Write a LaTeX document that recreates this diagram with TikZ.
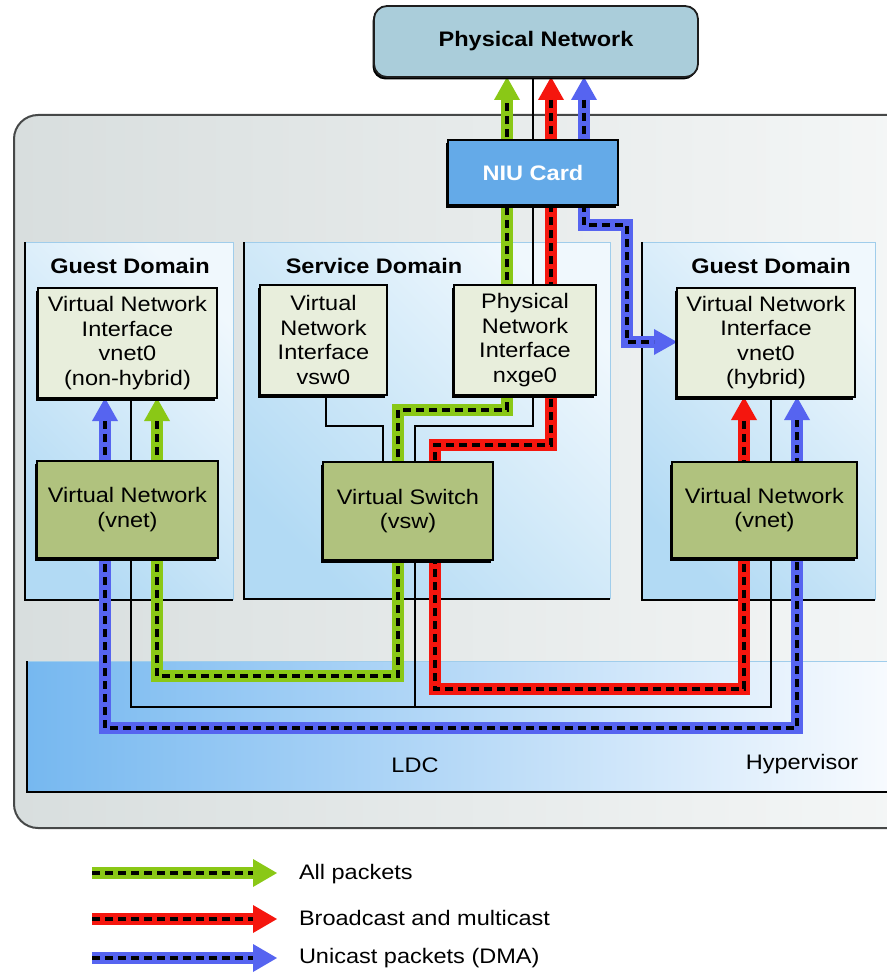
\documentclass[tikz,border=0pt]{standalone}
\usepackage{fontspec}
\setmainfont{Liberation Sans}[FakeStretch=1.12]
\usetikzlibrary{arrows.meta,shadows}

\pgfdeclarelayer{back}
\pgfdeclarelayer{flow}
\pgfsetlayers{back,flow,main}

\definecolor{pgreen}{RGB}{138,200,22}
\definecolor{pred}{RGB}{245,22,14}
\definecolor{pblue}{RGB}{86,100,240}
\definecolor{netfill}{RGB}{170,205,218}
\definecolor{niufill}{RGB}{100,170,232}
\definecolor{iffill}{RGB}{232,238,220}
\definecolor{drvfill}{RGB}{176,194,126}
\definecolor{frameL}{RGB}{216,222,222}
\definecolor{frameR}{RGB}{245,247,247}
\definecolor{frameEdge}{RGB}{70,72,72}
\definecolor{domBot}{RGB}{178,218,244}
\definecolor{domTop}{RGB}{240,248,253}
\definecolor{domEdge}{RGB}{160,205,235}
\definecolor{hvL}{RGB}{118,184,240}
\definecolor{hvR}{RGB}{252,253,255}

% a packet route: coloured band with heads, black dashes on top
\newcommand\flow[4]{%
  \draw[pktband=#1,#2] #4;
  \draw[pktdash,#3] #4;}

\begin{document}
\begin{tikzpicture}[x=1pt,y=-1pt,
  every node/.style={inner sep=0pt,outer sep=0pt,align=center,
    font=\fontsize{21}{24.5}\selectfont},
  heading/.style={font=\fontsize{21}{24.5}\selectfont\bfseries},
  boxshadow/.style={general shadow={fill=black,shadow xshift=-2.5pt,shadow yshift=-2.5pt}},
  ifbox/.style={draw=black,line width=1.5pt,fill=iffill,boxshadow},
  drvbox/.style={draw=black,line width=1.5pt,fill=drvfill,boxshadow},
  domainbox/.style={top color=domTop,bottom color=domBot,shading angle=-45},
  wire/.style={draw=black,line width=1.1pt},
  pktband/.style={draw=#1,line width=12pt},
  pktdash/.style={draw=black,line width=4.5pt,dash pattern=on 8pt off 5pt},
  >={Triangle[length=23pt 0,width=26pt 0,line width=0pt]},
]
\clip (0,0) rectangle (886,979);

\begin{pgfonlayer}{back}
  % machine frame
  \draw[draw=frameEdge,line width=2pt,rounded corners=24pt,
        left color=frameL,right color=frameR] (14,115) rectangle (930,828);
  % domains
  \node[domainbox,minimum width=208pt,minimum height=358pt] (gdl) at (129,421) {};
  \node[domainbox,minimum width=366pt,minimum height=357pt] (sdm) at (427,420.5) {};
  \node[domainbox,minimum width=233pt,minimum height=358pt] (gdr) at (758.5,421) {};
  \foreach \d in {gdl,sdm,gdr}{
    \draw[domEdge,line width=1pt] (\d.north west) -- (\d.north east) -- (\d.south east);
    \draw[black,line width=1.8pt] (\d.north west) -- (\d.south west) -- (\d.south east);
  }
  % hypervisor
  \node[minimum width=893pt,minimum height=131pt,left color=hvL,right color=hvR] (hv) at (473.5,726.5) {};
  \draw[domEdge,line width=1pt] (hv.north west) -- (hv.north east);
  \draw[black,line width=1.8pt] (hv.north west) -- (hv.south west) -- (hv.south east);
\end{pgfonlayer}

% titles and labels
\node[heading,anchor=base] (gdltitle) at (130,273) {Guest Domain};
\node[heading,anchor=base] (sdmtitle) at (374,273) {Service Domain};
\node[heading,anchor=base] (gdrtitle) at (771,273) {Guest Domain};
\node[anchor=base] (ldc) at (415,772) {LDC};
\node[anchor=base] (hvlabel) at (802,769) {Hypervisor};

% boxes
\node[heading,draw={rgb,255:red,30;green,30;blue,30},line width=1.8pt,fill=netfill,
      rounded corners=13pt,general shadow={fill=black,shadow xshift=-1.5pt,shadow yshift=-2.5pt},
      minimum width=324pt,minimum height=71pt] (pn) at (536,41.5) {Physical Network};
\node[heading,draw=black,line width=1.5pt,fill=niufill,text=white,boxshadow,
      minimum width=170pt,minimum height=65pt] (niu) at (533,172.5) {NIU Card};
\node[ifbox,minimum width=179pt,minimum height=110pt] (lnif) at (127.5,343)
  {Virtual Network\\Interface\\vnet0\\(non-hybrid)};
\node[drvbox,minimum width=181pt,minimum height=97pt] (lvn) at (127.5,509.5)
  {Virtual Network\\(vnet)};
\node[ifbox,minimum width=127pt,minimum height=110pt] (vsw0) at (323.5,340)
  {Virtual\\Network\\Interface\\vsw0};
\node[ifbox,minimum width=142pt,minimum height=110pt] (nxge) at (525,340)
  {Physical\\Network\\Interface\\nxge0};
\node[drvbox,minimum width=170pt,minimum height=98pt] (vsw) at (408,511)
  {Virtual Switch\\(vsw)};
\node[ifbox,minimum width=178pt,minimum height=109pt] (rnif) at (766,342.5)
  {Virtual Network\\Interface\\vnet0\\(hybrid)};
\node[drvbox,minimum width=185pt,minimum height=96pt] (rvn) at (764.5,510)
  {Virtual Network\\(vnet)};

% bend points
\coordinate (j1) at (533,426);  \coordinate (j2) at (415,426);
\coordinate (k1) at (326,426);  \coordinate (k2) at (383,426);
\coordinate (b1) at (131,707);  \coordinate (b2) at (771,707);
\coordinate (b3) at (415,707);
\coordinate (g1) at (157,676);  \coordinate (g2) at (398,676);
\coordinate (g3) at (398,410);  \coordinate (g4) at (507,410);
\coordinate (r1) at (551,445);  \coordinate (r2) at (435,445);
\coordinate (r3) at (435,689);  \coordinate (r4) at (744,689);
\coordinate (u1) at (584,225);  \coordinate (u2) at (627,225);
\coordinate (u3) at (627,342);
\coordinate (v1) at (105,728);  \coordinate (v2) at (797,728);

\begin{pgfonlayer}{flow}
  % LDC wiring
  \draw[wire] (niu |- pn.south) -- (niu |- nxge.north);
  \draw[wire] (nxge.south -| j1) -- (j1) -- (j2) -- (j2 |- vsw.north);
  \draw[wire] (vsw0.south -| k1) -- (k1) -- (k2) -- (k2 |- vsw.north);
  \draw[wire] (lnif.south -| b1) -- (lvn.north -| b1);
  \draw[wire] (rnif.south -| b2) -- (rvn.north -| b2);
  \draw[wire] (lvn.south -| b1) -- (b1) -- (b2) -- (rvn.south -| b2);
  \draw[wire] (vsw.south -| b3) -- (b3);
  % packet routes
  \flow{pgreen}{<->}{shorten <=23pt,shorten >=23pt}
    {(lnif.south -| g1) -- (g1) -- (g2) -- (g3) -- (g4) -- (g4 |- pn.south)}
  \flow{pred}{<->}{shorten <=23pt,shorten >=23pt}
    {(r1 |- pn.south) -- (r1) -- (r2) -- (r3) -- (r4) -- (rnif.south -| r4)}
  \flow{pblue}{<->}{shorten <=23pt,shorten >=23pt}
    {(u1 |- pn.south) -- (u1) -- (u2) -- (u3) -- (u3 -| rnif.west)}
  \flow{pblue}{<->}{shorten <=23pt,shorten >=23pt}
    {(lnif.south -| v1) -- (v1) -- (v2) -- (rnif.south -| v2)}
\end{pgfonlayer}

% legend
\coordinate (la1) at (92,873);  \coordinate (lb1) at (277,873);
\coordinate (la2) at (92,919);  \coordinate (lb2) at (277,919);
\coordinate (la3) at (92,958);  \coordinate (lb3) at (277,958);
\begin{scope}[>={Triangle[length=24pt 0,width=28pt 0,line width=0pt]}]
  \flow{pgreen}{->}{shorten >=24pt}{(la1) -- (lb1)}
  \flow{pred}{->}{shorten >=24pt}{(la2) -- (lb2)}
  \flow{pblue}{->}{shorten >=24pt}{(la3) -- (lb3)}
\end{scope}
\node[anchor=base west] (lt1) at (299,879) {All packets};
\node[anchor=base west] (lt2) at (299,925) {Broadcast and multicast};
\node[anchor=base west] (lt3) at (299,963) {Unicast packets (DMA)};
\end{tikzpicture}
\end{document}
